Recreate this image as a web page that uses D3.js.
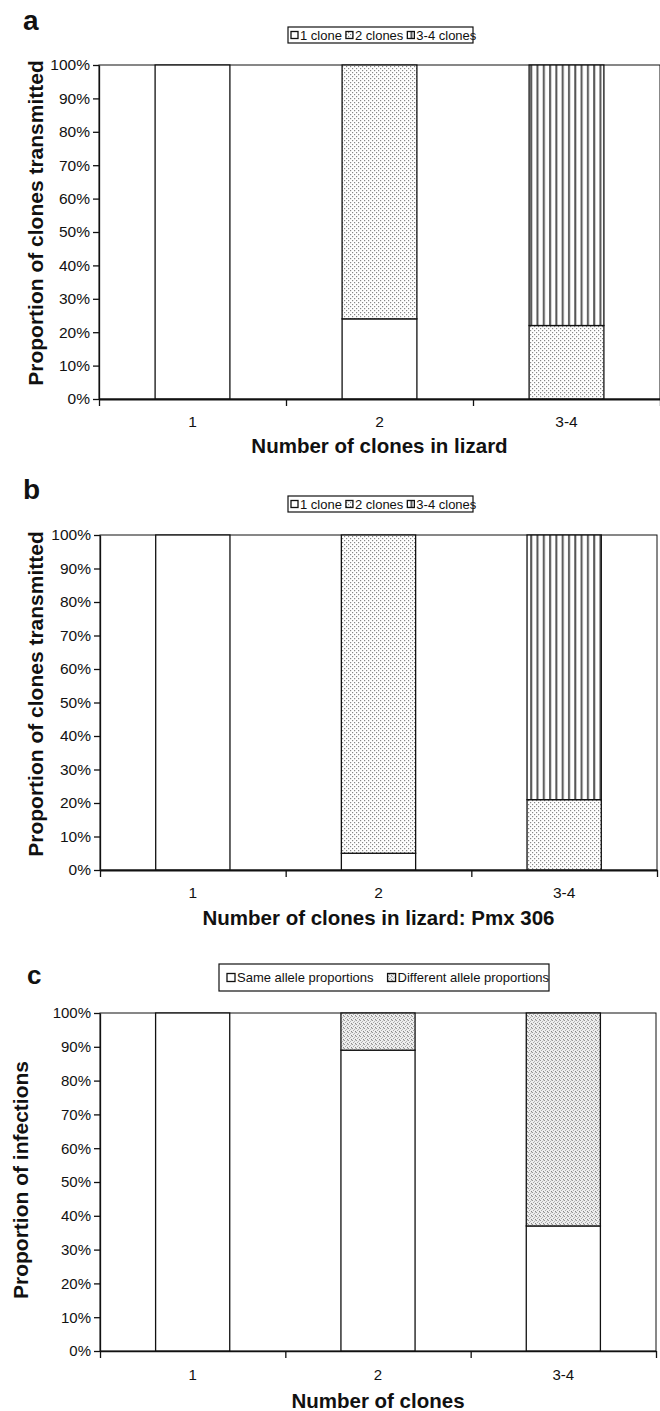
<!DOCTYPE html>
<html>
<head>
<meta charset="utf-8">
<script src="https://cdn.jsdelivr.net/npm/d3@7"></script>
<style>
    body { margin: 0; background: #fff; }
    svg text { font-family: "Liberation Sans", Arial, sans-serif; fill: #111; }
</style>
</head>
<body>
<div id="chart"></div>
<script>
    /****************************/
    /******data sets & vars******/
    /****************************/
    var categories = ["1", "2", "3-4"];
    var yTicks = [0, 10, 20, 30, 40, 50, 60, 70, 80, 90, 100];

    var cloneKeys = ["1 clone", "2 clones", "3-4 clones"];
    // panel a
    var aOneClone = [100, 24, 0];
    var aTwoClones = [0, 76, 22];
    var aThreeFourClones = [0, 0, 78];
    // panel b (Pmx 306)
    var bOneClone = [100, 5, 0];
    var bTwoClones = [0, 95, 21];
    var bThreeFourClones = [0, 0, 79];
    // panel c
    var alleleKeys = ["Same allele proportions", "Different allele proportions"];
    var cSame = [100, 89, 37];
    var cDifferent = [0, 11, 63];

    var w = 660;
    var h = 1411;

    var svg = d3.select("#chart")
        .append("svg")
        .attr("width", w)
        .attr("height", h);

    /****************************/
    /**********patterns**********/
    /****************************/
    var defs = svg.append("defs");

    var dots = defs.append("pattern")
        .attr("id", "dots")
        .attr("patternUnits", "userSpaceOnUse")
        .attr("width", 4).attr("height", 4);
    dots.append("rect").attr("width", 4).attr("height", 4).attr("fill", "#fff");
    dots.append("rect").attr("x", 0).attr("y", 0).attr("width", 1.2).attr("height", 1.2).attr("fill", "#888");
    dots.append("rect").attr("x", 2).attr("y", 2).attr("width", 1.2).attr("height", 1.2).attr("fill", "#888");

    var vlines = defs.append("pattern")
        .attr("id", "vlines")
        .attr("patternUnits", "userSpaceOnUse")
        .attr("width", 6.3).attr("height", 10);
    vlines.append("rect").attr("width", 6.3).attr("height", 10).attr("fill", "#fff");
    vlines.append("rect").attr("x", 1).attr("width", 2).attr("height", 10).attr("fill", "#555");

    var speckle = defs.append("pattern")
        .attr("id", "speckle")
        .attr("patternUnits", "userSpaceOnUse")
        .attr("width", 4).attr("height", 4);
    speckle.append("rect").attr("width", 4).attr("height", 4).attr("fill", "#eee");
    [[0, 0, "#999"], [2, 1, "#b5b5b5"], [1, 2, "#aaa"], [3, 3, "#888"], [3, 0, "#ccc"]].forEach(function(p) {
        speckle.append("rect").attr("x", p[0]).attr("y", p[1])
            .attr("width", 1).attr("height", 1).attr("fill", p[2]);
    });

    /****************************/
    /**********panels************/
    /****************************/
    function drawPanel(p) {
        var rows = categories.map(function(c, i) {
            var r = { cat: c };
            p.keys.forEach(function(k, j) { r[k] = p.series[j][i]; });
            return r;
        });
        var stacked = d3.stack().keys(p.keys)(rows);

        var x = d3.scaleBand()
            .domain(categories)
            .range([p.left, p.right])
            .paddingInner(0.6)
            .paddingOuter(0.3);
        var xEdge = d3.scaleLinear()
            .domain([0, categories.length])
            .range([p.left, p.right]);
        var y = d3.scaleLinear()
            .domain([0, 100])
            .range([p.bottom, p.top]);

        var g = svg.append("g");

        // plot frame (top + right)
        g.append("rect")
            .attr("x", p.left).attr("y", p.top)
            .attr("width", p.right - p.left).attr("height", p.bottom - p.top)
            .attr("fill", "none").attr("stroke", "#111").attr("stroke-width", 1);

        g.selectAll("g.layer")
            .data(stacked)
            .enter()
            .append("g")
            .attr("class", "layer")
            .attr("fill", function(d, i) { return p.fills[i]; })
            .selectAll("rect")
            .data(function(d) { return d.filter(function(v) { return v[1] - v[0] > 0; }); })
            .enter()
            .append("rect")
            .attr("x", function(d) { return x(d.data.cat); })
            .attr("y", function(d) { return y(d[1]); })
            .attr("width", x.bandwidth())
            .attr("height", function(d) { return y(d[0]) - y(d[1]); })
            .attr("stroke", "#111")
            .attr("stroke-width", 1.3);

        // y axis
        var yAxis = d3.axisLeft(y)
            .tickValues(yTicks)
            .tickFormat(function(d) { return d + "%"; })
            .tickSize(6)
            .tickSizeOuter(0)
            .tickPadding(3);
        var ya = g.append("g")
            .attr("transform", "translate(" + p.left + ",0)")
            .call(yAxis);
        ya.selectAll("text").attr("font-size", p.tickFont + "px").style("font-family", null);
        ya.selectAll("line, path").attr("stroke", "#111").attr("stroke-width", 1.3);

        // x axis: boundary ticks + category labels
        var xa = g.append("g")
            .attr("transform", "translate(0," + p.bottom + ")")
            .call(d3.axisBottom(xEdge).tickValues(d3.range(categories.length + 1)).tickFormat("").tickSize(7).tickSizeOuter(0));
        xa.selectAll("line").attr("stroke", "#111").attr("stroke-width", 1.3);
        xa.select("path").attr("stroke", "#111").attr("stroke-width", p.xAxisWidth);

        var xl = g.append("g")
            .attr("transform", "translate(0," + p.bottom + ")")
            .call(d3.axisBottom(x).tickSize(0).tickPadding(p.labelPad));
        xl.select("path").remove();
        xl.selectAll("text").attr("font-size", p.tickFont + "px");

        // titles
        g.append("text")
            .attr("x", (p.left + p.right) / 2)
            .attr("y", p.xTitleY)
            .attr("text-anchor", "middle")
            .attr("font-weight", "bold")
            .attr("font-size", "20.5px")
            .text(p.xTitle);
        g.append("text")
            .attr("transform", "translate(" + p.yTitleX + "," + p.yTitleMid + ") rotate(-90)")
            .attr("text-anchor", "middle")
            .attr("font-weight", "bold")
            .attr("font-size", p.yTitleFont + "px")
            .text(p.yTitle);
        g.append("text")
            .attr("x", p.labelX).attr("y", p.labelY)
            .attr("font-weight", "bold")
            .attr("font-size", p.labelFont + "px")
            .text(p.label);

        // legend
        var lg = g.append("g");
        lg.append("rect")
            .attr("x", p.legend.x).attr("y", p.legend.y)
            .attr("width", p.legend.w).attr("height", p.legend.h)
            .attr("fill", "#fff").attr("stroke", "#111").attr("stroke-width", 1.2);
        var cx = p.legend.x + p.legend.pad;
        var midY = p.legend.y + p.legend.h / 2;
        p.keys.forEach(function(k, i) {
            var s = p.legend.sq;
            lg.append("rect")
                .attr("x", cx).attr("y", midY - s / 2)
                .attr("width", s).attr("height", s)
                .attr("fill", p.fills[i]).attr("stroke", "#111").attr("stroke-width", 1.3);
            var t = lg.append("text")
                .attr("x", cx + s + 2)
                .attr("y", midY + 4.5)
                .attr("font-size", "13px")
                .text(k);
            cx += s + 2 + t.node().getComputedTextLength() + p.legend.gap;
        });
    }

    drawPanel({
        keys: cloneKeys,
        series: [aOneClone, aTwoClones, aThreeFourClones],
        fills: ["#fff", "url(#dots)", "url(#vlines)"],
        left: 99, right: 660, top: 65, bottom: 399,
        tickFont: 15.5, labelPad: 17, xAxisWidth: 2.2,
        xTitle: "Number of clones in lizard", xTitleY: 453,
        yTitle: "Proportion of clones transmitted", yTitleX: 43, yTitleMid: 223, yTitleFont: 21,
        label: "a", labelX: 23, labelY: 30, labelFont: 28,
        legend: { x: 288, y: 27, w: 185, h: 16, pad: 3, sq: 7, gap: 4 }
    });

    drawPanel({
        keys: cloneKeys,
        series: [bOneClone, bTwoClones, bThreeFourClones],
        fills: ["#fff", "url(#dots)", "url(#vlines)"],
        left: 100, right: 657, top: 535, bottom: 870,
        tickFont: 15.5, labelPad: 17, xAxisWidth: 2.2,
        xTitle: "Number of clones in lizard: Pmx 306", xTitleY: 925,
        yTitle: "Proportion of clones transmitted", yTitleX: 43, yTitleMid: 694, yTitleFont: 21,
        label: "b", labelX: 23, labelY: 499, labelFont: 28,
        legend: { x: 288, y: 496, w: 185, h: 16, pad: 3, sq: 7, gap: 4 }
    });

    drawPanel({
        keys: alleleKeys,
        series: [cSame, cDifferent],
        fills: ["#fff", "url(#speckle)"],
        left: 100, right: 656, top: 1013, bottom: 1351,
        tickFont: 15, labelPad: 18, xAxisWidth: 1.5,
        xTitle: "Number of clones", xTitleY: 1408,
        yTitle: "Proportion of infections", yTitleX: 28, yTitleMid: 1180, yTitleFont: 21,
        label: "c", labelX: 27, labelY: 984, labelFont: 26,
        legend: { x: 219, y: 964, w: 330, h: 27, pad: 8, sq: 8, gap: 14 }
    });
</script>
</body>
</html>
